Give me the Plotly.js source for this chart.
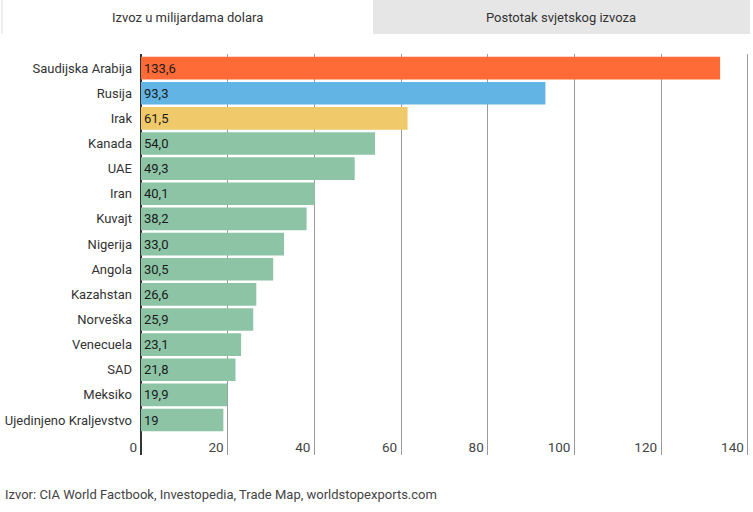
<!DOCTYPE html>
<html>
<head>
<meta charset="utf-8">
<script src="https://cdn.plot.ly/plotly-3.0.1.min.js"></script>
<style>
html,body{margin:0;padding:0;background:#fff;}
#chart{width:753px;height:512px;}
</style>
</head>
<body>
<div id="chart"></div>
<script>
const countries = ["Saudijska Arabija","Rusija","Irak","Kanada","UAE","Iran","Kuvajt","Nigerija","Angola","Kazahstan","Norveška","Venecuela","SAD","Meksiko","Ujedinjeno Kraljevstvo"];
const exportsBn = [133.6,93.3,61.5,54.0,49.3,40.1,38.2,33.0,30.5,26.6,25.9,23.1,21.8,19.9,19];
const valueLabels = ["133,6","93,3","61,5","54,0","49,3","40,1","38,2","33,0","30,5","26,6","25,9","23,1","21,8","19,9","19"];
const barColors = ["#FF6B36","#62B4E4","#F0CA6A","#8DC4A6","#8DC4A6","#8DC4A6","#8DC4A6","#8DC4A6","#8DC4A6","#8DC4A6","#8DC4A6","#8DC4A6","#8DC4A6","#8DC4A6","#8DC4A6"];
const xTicks = [0,20,40,60,80,100,120,140];
const tabLabels = ["Izvoz u milijardama dolara","Postotak svjetskog izvoza"];
const sourceNote = "Izvor: CIA World Factbook, Investopedia, Trade Map, worldstopexports.com";

const font = "Roboto, 'Noto Sans', sans-serif";

const trace = {
  type: "bar",
  orientation: "h",
  y: countries,
  x: exportsBn,
  text: valueLabels,
  textposition: "inside",
  insidetextanchor: "start",
  textfont: {family: font, size: 13, color: "#1a1a1a"},
  constraintext: "none",
  marker: {color: barColors, line: {width: 0}},
  hoverinfo: "none",
  cliponaxis: false
};

const layout = {
  width: 753,
  height: 512,
  margin: {l: 141, r: 3, t: 54, b: 57},
  paper_bgcolor: "#fff",
  plot_bgcolor: "#fff",
  showlegend: false,
  bargap: 0.1,
  font: {family: font, size: 13, color: "#333"},
  xaxis: {
    range: [0, 140.5],
    tickvals: xTicks,
    ticktext: xTicks.map(String),
    ticklabelposition: "inside left",
    ticklabeloverflow: "allow",
    ticklabelshift: -4,
    ticklabelstandoff: -6,
    tickfont: {family: font, size: 13.5, color: "#444"},
    showgrid: true,
    gridcolor: "#9a9a9a",
    gridwidth: 1,
    zeroline: true,
    zerolinecolor: "#333",
    zerolinewidth: 2,
    showline: false,
    ticks: "",
    fixedrange: true
  },
  yaxis: {
    type: "category",
    range: [15.39, -0.56],
    tickfont: {family: font, size: 13, color: "#333"},
    ticks: "",
    showgrid: false,
    showline: false,
    zeroline: false,
    ticklabelstandoff: 8,
    fixedrange: true
  },
  shapes: [
    {type: "rect", xref: "paper", yref: "paper", x0: (373-141)/609, x1: (750-141)/609, y0: 1 + (54-34)/401, y1: 1 + 54/401, line: {width: 0}, fillcolor: "#e6e6e6", layer: "below"},
    {type: "line", xref: "paper", yref: "paper", x0: (2-141)/609, x1: (2-141)/609, y0: 1 + (54-34)/401, y1: 1 + 54/401, line: {width: 1, color: "#dcdcdc"}}
  ],
  annotations: [
    {xref: "paper", yref: "paper", x: ((187-141)/609), y: 1 + (54-17)/401, text: tabLabels[0], showarrow: false, xanchor: "center", yanchor: "middle", font: {family: font, size: 13, color: "#333"}},
    {xref: "paper", yref: "paper", x: ((561-141)/609), y: 1 + (54-17)/401, text: tabLabels[1], showarrow: false, xanchor: "center", yanchor: "middle", font: {family: font, size: 13, color: "#333"}},
    {xref: "paper", yref: "paper", x: (3-141)/609, y: -(494-455)/401, text: sourceNote, showarrow: false, xanchor: "left", yanchor: "middle", font: {family: font, size: 13, color: "#444"}}
  ]
};

Plotly.newPlot("chart", [trace], layout, {displayModeBar: false, staticPlot: true});
</script>
</body>
</html>
